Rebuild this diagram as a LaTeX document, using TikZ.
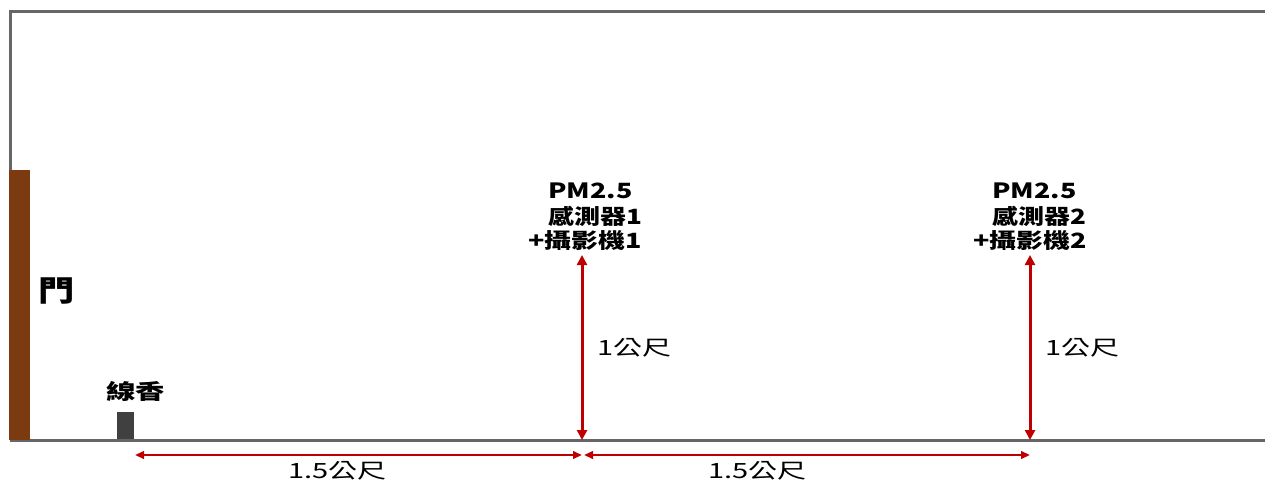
\documentclass[tikz,border=0pt]{standalone}
\usepackage{fontspec}
\usepackage{graphicx}
\setmainfont{Noto Sans CJK TC}
\usetikzlibrary{arrows.meta}
\definecolor{wallgray}{HTML}{666666}
\definecolor{doorbrown}{HTML}{7B3A10}
\definecolor{dimred}{HTML}{C00000}
\definecolor{incense}{HTML}{404040}
\newcommand\wide[2]{\scalebox{#1}[1]{#2}}
\begin{document}
\begin{tikzpicture}[x=1pt,y=-1pt,
  wall/.style={draw=wallgray,line width=3pt},
  vdim/.style={draw=dimred,line width=3pt,{Triangle[length=10pt,width=10pt]}-{Triangle[length=10pt,width=10pt]}},
  hdim/.style={draw=dimred,line width=2.2pt,{Triangle[length=9pt,width=7.5pt]}-{Triangle[length=9pt,width=7.5pt]}},
  lbl/.style={font=\fontsize{21}{25}\selectfont,inner sep=0pt},
  blbl/.style={font=\fontsize{21}{25}\selectfont\bfseries,inner sep=0pt}]
\useasboundingbox (0,0) rectangle (1265,485);
\fill[white] (0,0) rectangle (1265,485);
% room
\coordinate (tl) at (10,11);
\coordinate (tr) at (1265,11);
\coordinate (bl) at (10,440);
\coordinate (br) at (1265,440);
\draw[wall] (bl) -- (tl) -- (tr);
\draw[wall] (bl) -- (br);
% door
\fill[doorbrown] (9,170) rectangle (30,440);
\node[blbl,font=\fontsize{29}{31}\selectfont\bfseries] (door) at (57,291) {\wide{1.25}{門}};
% incense
\fill[incense] (117,412) rectangle (134,439);
\node[blbl,anchor=west] (inc) at (106,392) {\wide{1.4}{線香}};
% sensor points
\coordinate (s1b) at (582,440);
\coordinate (s1t) at (582,255);
\coordinate (s2b) at (1030,440);
\coordinate (s2t) at (1030,255);
\coordinate (h0) at (135,455);
\coordinate (h1) at (582,455);
\coordinate (h1b) at (584,455);
\coordinate (h2) at (1030,455);
\draw[vdim] (s1b) -- (s1t);
\draw[vdim] (s2b) -- (s2t);
\draw[hdim] (h0) -- (h1);
\draw[hdim] (h1b) -- (h2);
\node[lbl,anchor=west] (v1) at (597,348) {\wide{1.38}{1公尺}};
\node[lbl,anchor=west] (v2) at (1045,348) {\wide{1.38}{1公尺}};
\node[lbl,anchor=west] (d1) at (288,471) {\wide{1.38}{1.5公尺}};
\node[lbl,anchor=west] (d2) at (708,471) {\wide{1.38}{1.5公尺}};
% sensor labels
\node[blbl,anchor=west] (p1a) at (548,191) {\wide{1.28}{PM2.5}};
\node[blbl,anchor=west] (p1b) at (548,216) {\wide{1.24}{感測器1}};
\node[blbl,anchor=west] (p1c) at (528,241) {\wide{1.28}{+攝影機1}};
\node[blbl,anchor=west] (p2a) at (992,191) {\wide{1.28}{PM2.5}};
\node[blbl,anchor=west] (p2b) at (992,216) {\wide{1.24}{感測器2}};
\node[blbl,anchor=west] (p2c) at (973,241) {\wide{1.28}{+攝影機2}};
\end{tikzpicture}
\end{document}
